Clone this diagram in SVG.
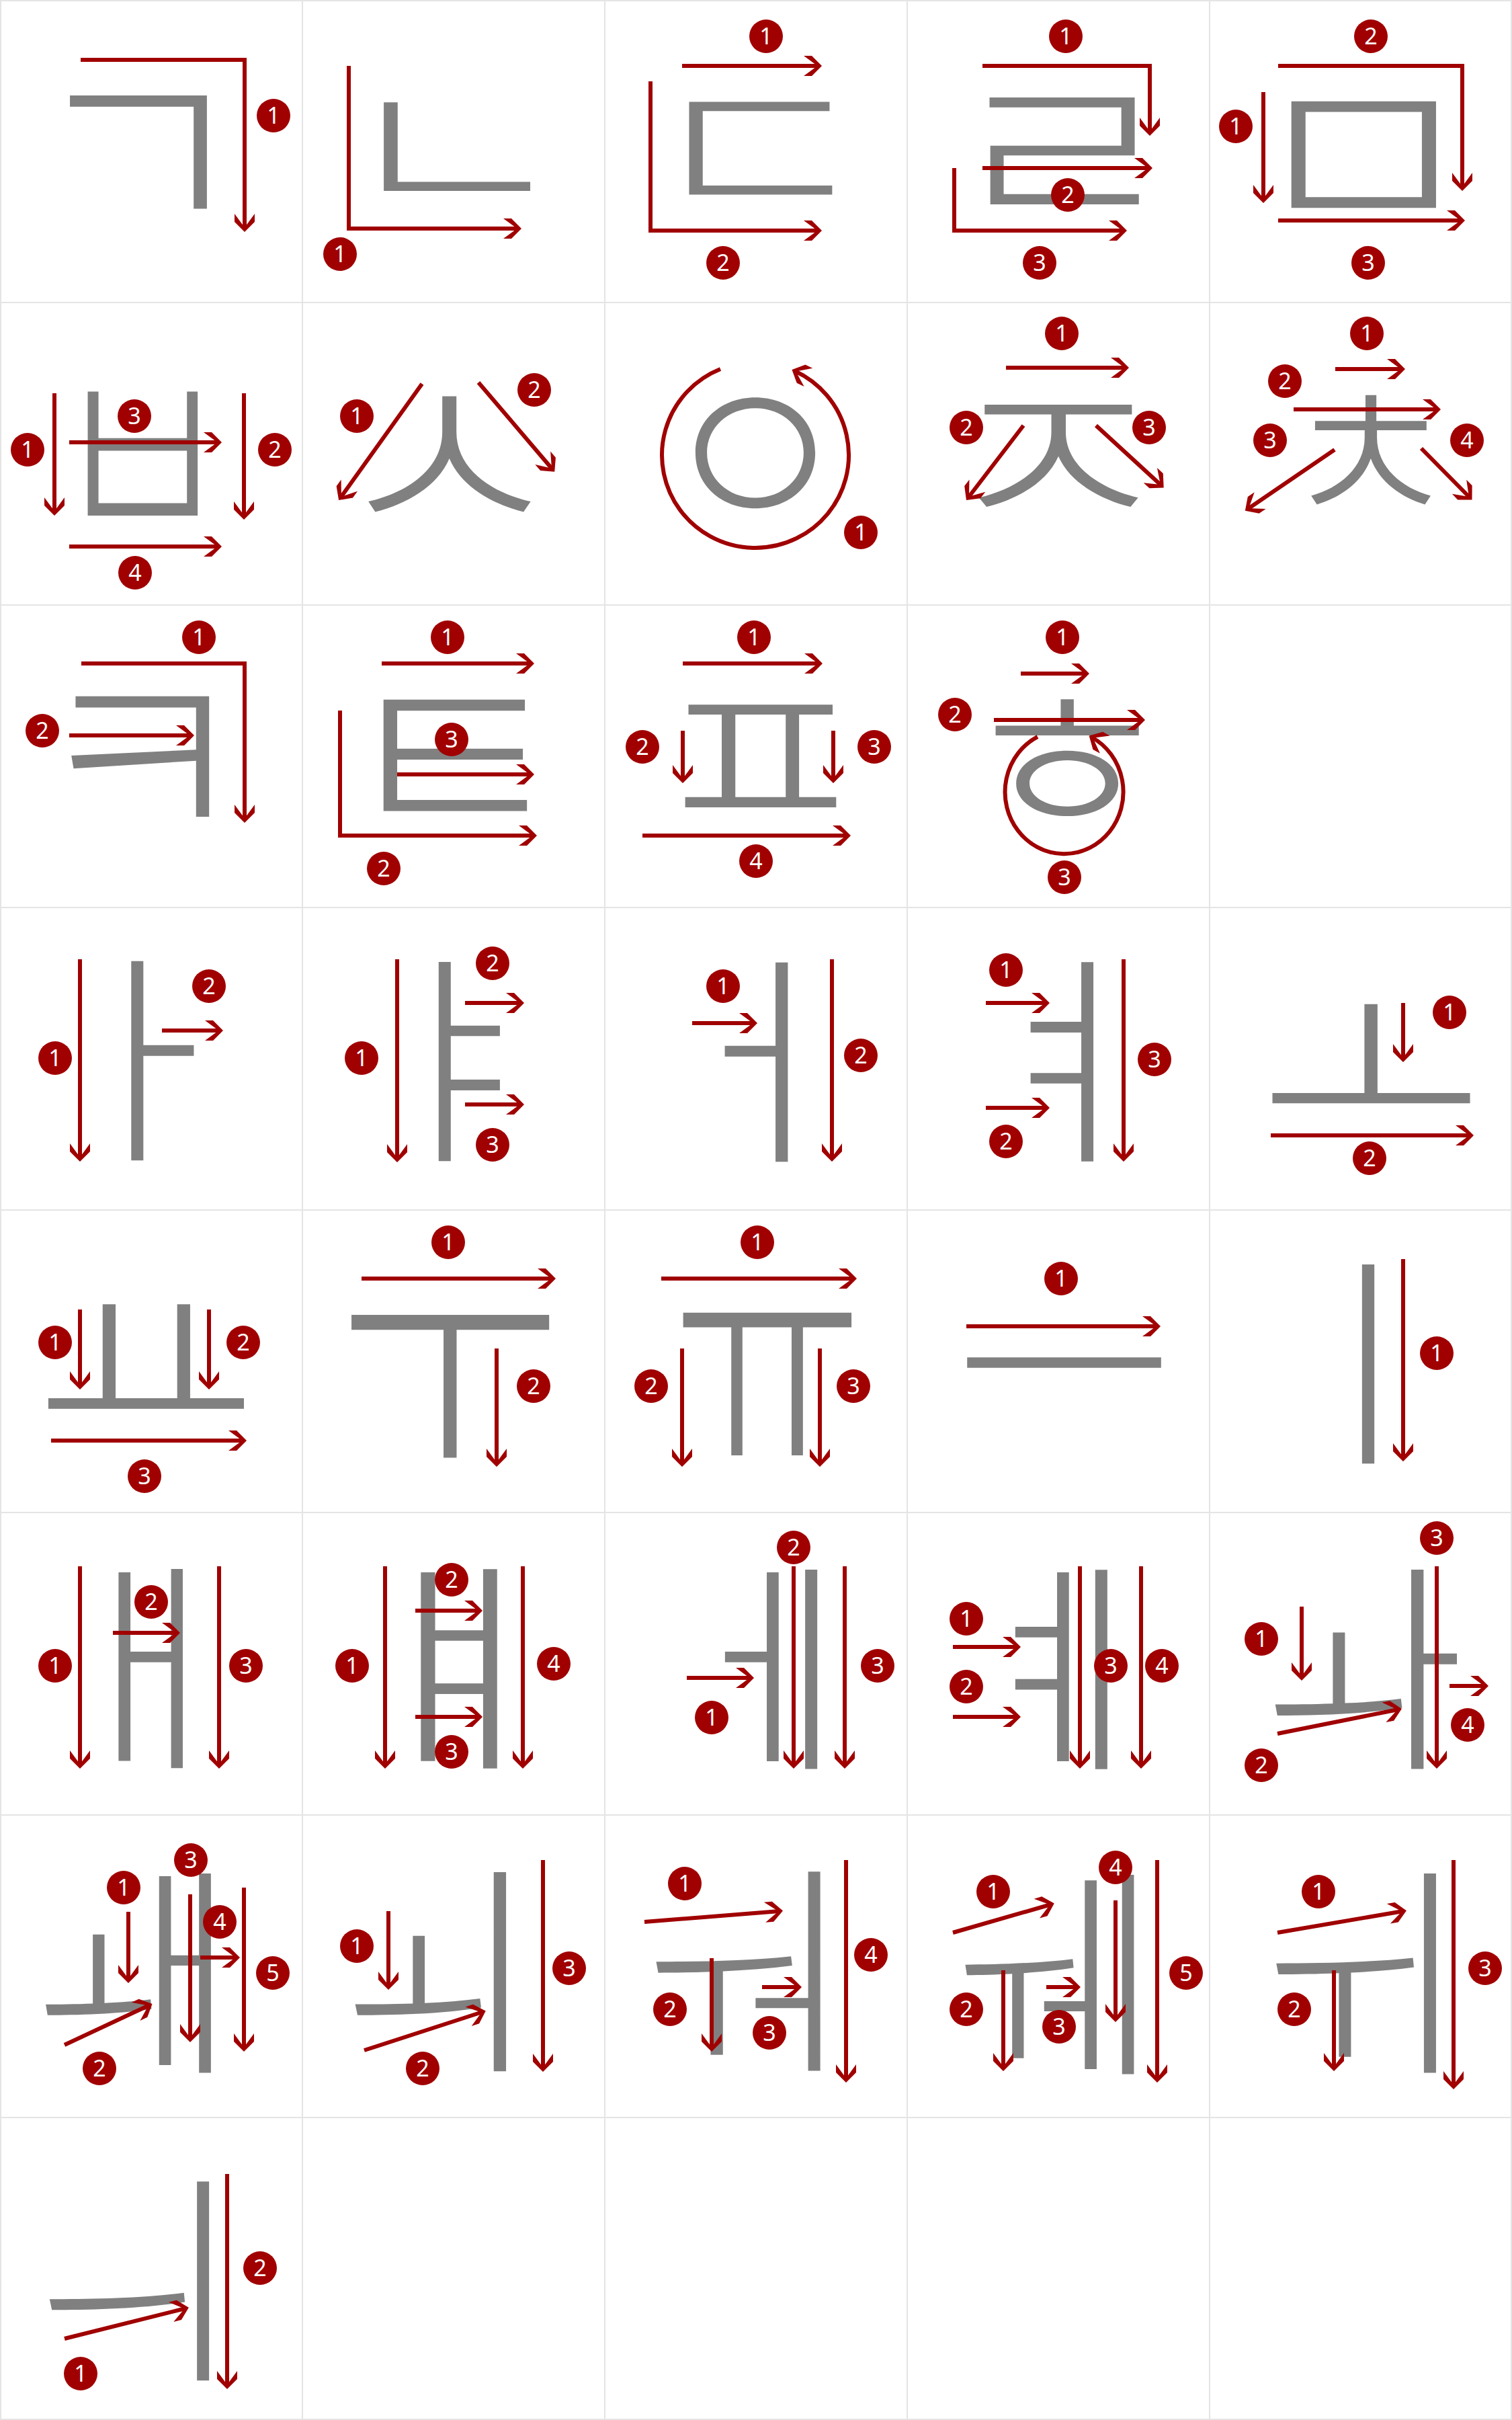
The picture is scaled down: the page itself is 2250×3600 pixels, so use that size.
<svg xmlns="http://www.w3.org/2000/svg" width="2250" height="3600" viewBox="0 0 2250 3600">
<defs>
<marker id="ah" markerUnits="userSpaceOnUse" viewBox="-32 -17 40 34" markerWidth="40" markerHeight="34" refX="-5" refY="0" orient="auto">
<path d="M0,0 L-15,-15 L-27,-15 L-10,-2.5 L-10,2.5 L-27,15 L-15,15 Z" fill="#a00000"/>
</marker>
<style>
.g{fill:#808080;font-family:"Noto Sans CJK KR","Noto Sans",sans-serif;font-weight:300;text-anchor:middle}
.c{font-size:300px}
.v{font-size:340px}
.a{fill:none;stroke:#a00000;stroke-width:6;marker-end:url(#ah);stroke-linejoin:miter}
.b circle{fill:#a00000}
.b text{fill:#fff;font-family:"Noto Sans",sans-serif;font-size:34px;text-anchor:middle}
.grid{stroke:#e4e4e4;stroke-width:2;fill:none}
</style>
</defs>
<rect width="2250" height="3600" fill="#fff"/>
<g id="grid" class="grid">
<rect x="1" y="1" width="2248" height="3598"/>
<path d="M450,0V3600M900,0V3600M1350,0V3600M1800,0V3600M0,450H2250M0,900H2250M0,1350H2250M0,1800H2250M0,2250H2250M0,2700H2250M0,3150H2250"/>
</g>
<g id="glyphs">
<g id="n-g"><text class="g c" x="0" y="113" transform="translate(206,223) scale(1.24,1.23)">ㄱ</text></g>
<g id="n-n"><text class="g c" x="-4" y="114" transform="translate(680,215) scale(1.3,0.97)">ㄴ</text></g>
<g id="n-d"><text class="g c" x="-2" y="112" transform="translate(1131,220) scale(1.3,1)">ㄷ</text></g>
<g id="n-r"><text class="g c" x="-3" y="113.5" transform="translate(1584,222) scale(1.3,1.1)">ㄹ</text></g>
<g id="n-m"><text class="g c" x="0" y="114" transform="translate(2027,227) scale(1.3,1.14)">ㅁ</text></g>
<g id="n-b"><text class="g c" x="0" y="117" transform="translate(211,669) scale(1,1.3)">ㅂ</text></g>
<g id="n-s"><text class="g c" x="0" y="117" transform="translate(666,671) scale(1.3,1.17)">ㅅ</text></g>
<g id="n-ng"><text class="g c" x="0" y="114" transform="translate(1124,672) scale(1.08,1.14)">ㅇ</text></g>
<g id="n-j"><text class="g c" x="-3" y="115" transform="translate(1575,675) scale(1.35,1.07)">ㅈ</text></g>
<g id="n-ch"><text class="g c" x="0" y="119" transform="translate(2039,665) scale(1.02,1)">ㅊ</text></g>
<g id="n-k"><text class="g c" x="-1" y="113" transform="translate(211,1124) scale(1.22,1.24)">ㅋ</text></g>
<g id="n-t"><text class="g c" x="-2" y="113" transform="translate(675,1122) scale(1.28,1.19)">ㅌ</text></g>
<g id="n-p"><text class="g c" x="2" y="112" transform="translate(1127,1123) scale(1.25,1.1)">ㅍ</text></g>
<g id="n-h"><text class="g c" x="0" y="116" transform="translate(1586,1124) scale(1.2,1.04)">ㅎ</text></g>
<g id="n-a"><text class="g v" x="213" y="1702">ㅏ</text></g>
<g id="n-ya"><text class="g v" x="681" y="1704">ㅑ</text></g>
<g id="n-eo"><text class="g v" x="1133" y="1704">ㅓ</text></g>
<g id="n-yeo"><text class="g v" x="1587" y="1704">ㅕ</text></g>
<g id="n-o"><text class="g v" x="1" y="141" transform="translate(2040,1570) scale(1.08,1)">ㅗ</text></g>
<g id="n-yo"><text class="g v" x="-1" y="136.5" transform="translate(216,2021) scale(1.07,1)">ㅛ</text></g>
<g id="n-u"><text class="g v" x="-3" y="100.5" transform="translate(671,2060) scale(1.08,1.42)">ㅜ</text></g>
<g id="n-yu"><text class="g v" x="21" y="98.5" transform="translate(1123,2060) scale(0.92,1.42)">ㅠ</text></g>
<g id="n-eu"><text class="g v" x="1" y="132.5" transform="translate(1583,2026) scale(1.06,1)">ㅡ</text></g>
<g id="n-i"><text class="g v" x="2034" y="2153">ㅣ</text></g>
<g id="n-ae"><text class="g v" x="222" y="2607">ㅐ</text></g>
<g id="n-yae"><text class="g v" x="-2" y="129" transform="translate(683,2478) scale(1.2,1)">ㅒ</text></g>
<g id="n-e"><text class="g v" x="1155" y="2607">ㅔ</text></g>
<g id="n-ye"><text class="g v" x="1587" y="2607">ㅖ</text></g>
<g id="n-wa"><text class="g v" x="2030" y="2607">ㅘ</text></g>
<g id="n-wae"><text class="g v" x="200" y="3059">ㅙ</text></g>
<g id="n-oe"><text class="g v" x="648" y="3057">ㅚ</text></g>
<g id="n-wo"><text class="g v" x="1103" y="3056">ㅝ</text></g>
<g id="n-we"><text class="g v" x="1565" y="3061">ㅞ</text></g>
<g id="n-wi"><text class="g v" x="2020" y="3059">ㅟ</text></g>
<g id="n-ui"><text class="g v" x="202" y="3512">ㅢ</text></g>
</g>
<g id="connectors">
<polyline class="a" points="120,89 364,89 364,340"/>
<polyline class="a" points="519,98 519,340 771,340"/>
<line class="a" x1="1015" y1="98" x2="1218" y2="98"/>
<polyline class="a" points="968,121 968,343 1218,343"/>
<polyline class="a" points="1462,98 1711,98 1711,197"/>
<line class="a" x1="1462" y1="250" x2="1710" y2="250"/>
<polyline class="a" points="1420,250 1420,343 1672,343"/>
<line class="a" x1="1880" y1="137" x2="1880" y2="297"/>
<polyline class="a" points="1902,98 2176,98 2176,279"/>
<line class="a" x1="1902" y1="328" x2="2175" y2="328"/>
<line class="a" x1="81" y1="585" x2="81" y2="762"/>
<line class="a" x1="363" y1="585" x2="363" y2="768"/>
<line class="a" x1="103" y1="658" x2="325" y2="658"/>
<line class="a" x1="103" y1="813" x2="325" y2="813"/>
<line class="a" x1="628" y1="571" x2="507" y2="740"/>
<line class="a" x1="712" y1="569" x2="822" y2="698"/>
<path class="a" d="M1072,549 A139,138 0 1 0 1183,552"/>
<line class="a" x1="1497" y1="547" x2="1675" y2="547"/>
<line class="a" x1="1523" y1="633" x2="1441" y2="740"/>
<line class="a" x1="1631" y1="633" x2="1728" y2="722"/>
<line class="a" x1="1987" y1="549" x2="2086" y2="549"/>
<line class="a" x1="1925" y1="609" x2="2139" y2="609"/>
<line class="a" x1="1986" y1="669" x2="1857" y2="757"/>
<line class="a" x1="2115" y1="667" x2="2187" y2="740"/>
<polyline class="a" points="121,987 364,987 364,1219"/>
<line class="a" x1="103" y1="1094" x2="284" y2="1094"/>
<line class="a" x1="568" y1="987" x2="790" y2="987"/>
<polyline class="a" points="506,1057 506,1243 794,1243"/>
<line class="a" x1="591" y1="1152" x2="790" y2="1152"/>
<line class="a" x1="1016" y1="987" x2="1219" y2="987"/>
<line class="a" x1="1016" y1="1087" x2="1016" y2="1160"/>
<line class="a" x1="1240" y1="1087" x2="1240" y2="1160"/>
<line class="a" x1="956" y1="1243" x2="1261" y2="1243"/>
<line class="a" x1="1519" y1="1002" x2="1616" y2="1002"/>
<line class="a" x1="1479" y1="1071" x2="1699" y2="1071"/>
<path class="a" d="M1544,1096 A88,92 0 1 0 1625,1097"/>
<line class="a" x1="119" y1="1427" x2="119" y2="1723"/>
<line class="a" x1="241" y1="1533" x2="327" y2="1533"/>
<line class="a" x1="591" y1="1427" x2="591" y2="1724"/>
<line class="a" x1="692" y1="1492" x2="775" y2="1492"/>
<line class="a" x1="692" y1="1643" x2="775" y2="1643"/>
<line class="a" x1="1030" y1="1522" x2="1122" y2="1522"/>
<line class="a" x1="1238" y1="1427" x2="1238" y2="1723"/>
<line class="a" x1="1467" y1="1492" x2="1557" y2="1492"/>
<line class="a" x1="1467" y1="1648" x2="1557" y2="1648"/>
<line class="a" x1="1672" y1="1427" x2="1672" y2="1723"/>
<line class="a" x1="2088" y1="1492" x2="2088" y2="1575"/>
<line class="a" x1="1891" y1="1689" x2="2188" y2="1689"/>
<line class="a" x1="119" y1="1948" x2="119" y2="2062"/>
<line class="a" x1="311" y1="1948" x2="311" y2="2062"/>
<line class="a" x1="76" y1="2143" x2="362" y2="2143"/>
<line class="a" x1="538" y1="1902" x2="822" y2="1902"/>
<line class="a" x1="739" y1="2006" x2="739" y2="2177"/>
<line class="a" x1="984" y1="1902" x2="1270" y2="1902"/>
<line class="a" x1="1015" y1="2006" x2="1015" y2="2177"/>
<line class="a" x1="1220" y1="2006" x2="1220" y2="2177"/>
<line class="a" x1="1438" y1="1973" x2="1722" y2="1973"/>
<line class="a" x1="2088" y1="1873" x2="2088" y2="2169"/>
<line class="a" x1="119" y1="2330" x2="119" y2="2626"/>
<line class="a" x1="168" y1="2429" x2="263" y2="2429"/>
<line class="a" x1="326" y1="2330" x2="326" y2="2626"/>
<line class="a" x1="573" y1="2330" x2="573" y2="2626"/>
<line class="a" x1="618" y1="2396" x2="713" y2="2396"/>
<line class="a" x1="618" y1="2554" x2="713" y2="2554"/>
<line class="a" x1="778" y1="2330" x2="778" y2="2626"/>
<line class="a" x1="1022" y1="2496" x2="1117" y2="2496"/>
<line class="a" x1="1181" y1="2330" x2="1181" y2="2626"/>
<line class="a" x1="1257" y1="2330" x2="1257" y2="2626"/>
<line class="a" x1="1418" y1="2450" x2="1514" y2="2450"/>
<line class="a" x1="1418" y1="2554" x2="1514" y2="2554"/>
<line class="a" x1="1607" y1="2330" x2="1607" y2="2626"/>
<line class="a" x1="1698" y1="2330" x2="1698" y2="2626"/>
<line class="a" x1="1937" y1="2390" x2="1937" y2="2495"/>
<line class="a" x1="1901" y1="2579" x2="2081" y2="2543"/>
<line class="a" x1="2138" y1="2330" x2="2138" y2="2626"/>
<line class="a" x1="2157" y1="2508" x2="2210" y2="2508"/>
<line class="a" x1="191" y1="2844" x2="191" y2="2945"/>
<line class="a" x1="96" y1="3042" x2="222" y2="2983"/>
<line class="a" x1="283" y1="2818" x2="283" y2="3033"/>
<line class="a" x1="298" y1="2912" x2="352" y2="2912"/>
<line class="a" x1="363" y1="2808" x2="363" y2="3047"/>
<line class="a" x1="578" y1="2843" x2="578" y2="2955"/>
<line class="a" x1="542" y1="3050" x2="718" y2="2993"/>
<line class="a" x1="808" y1="2767" x2="808" y2="3077"/>
<line class="a" x1="959" y1="2859" x2="1160" y2="2843"/>
<line class="a" x1="1059" y1="2913" x2="1059" y2="3047"/>
<line class="a" x1="1134" y1="2956" x2="1188" y2="2956"/>
<line class="a" x1="1259" y1="2767" x2="1259" y2="3093"/>
<line class="a" x1="1418" y1="2875" x2="1564" y2="2833"/>
<line class="a" x1="1493" y1="2931" x2="1493" y2="3076"/>
<line class="a" x1="1557" y1="2956" x2="1603" y2="2956"/>
<line class="a" x1="1660" y1="2827" x2="1660" y2="3003"/>
<line class="a" x1="1722" y1="2767" x2="1722" y2="3093"/>
<line class="a" x1="1901" y1="2875" x2="2088" y2="2843"/>
<line class="a" x1="1985" y1="2931" x2="1985" y2="3076"/>
<line class="a" x1="2163" y1="2767" x2="2163" y2="3103"/>
<line class="a" x1="96" y1="3479" x2="276" y2="3434"/>
<line class="a" x1="338" y1="3234" x2="338" y2="3549"/>
</g>
<g id="badges" class="b">
<circle cx="407" cy="172" r="25"/><text x="407" y="184">1</text>
<circle cx="506" cy="378" r="25"/><text x="506" y="390">1</text>
<circle cx="1140" cy="54" r="25"/><text x="1140" y="66">1</text>
<circle cx="1076" cy="391" r="25"/><text x="1076" y="403">2</text>
<circle cx="1586" cy="54" r="25"/><text x="1586" y="66">1</text>
<circle cx="1589" cy="290" r="25"/><text x="1589" y="302">2</text>
<circle cx="1547" cy="391" r="25"/><text x="1547" y="403">3</text>
<circle cx="1839" cy="188" r="25"/><text x="1839" y="200">1</text>
<circle cx="2040" cy="54" r="25"/><text x="2040" y="66">2</text>
<circle cx="2036" cy="391" r="25"/><text x="2036" y="403">3</text>
<circle cx="41" cy="669" r="25"/><text x="41" y="681">1</text>
<circle cx="409" cy="669" r="25"/><text x="409" y="681">2</text>
<circle cx="200" cy="619" r="25"/><text x="200" y="631">3</text>
<circle cx="201" cy="852" r="25"/><text x="201" y="864">4</text>
<circle cx="531" cy="619" r="25"/><text x="531" y="631">1</text>
<circle cx="795" cy="580" r="25"/><text x="795" y="592">2</text>
<circle cx="1281" cy="792" r="25"/><text x="1281" y="804">1</text>
<circle cx="1580" cy="496" r="25"/><text x="1580" y="508">1</text>
<circle cx="1438" cy="636" r="25"/><text x="1438" y="648">2</text>
<circle cx="1710" cy="636" r="25"/><text x="1710" y="648">3</text>
<circle cx="2034" cy="496" r="25"/><text x="2034" y="508">1</text>
<circle cx="1912" cy="567" r="25"/><text x="1912" y="579">2</text>
<circle cx="1890" cy="655" r="25"/><text x="1890" y="667">3</text>
<circle cx="2183" cy="655" r="25"/><text x="2183" y="667">4</text>
<circle cx="296" cy="948" r="25"/><text x="296" y="960">1</text>
<circle cx="63" cy="1087" r="25"/><text x="63" y="1099">2</text>
<circle cx="666" cy="948" r="25"/><text x="666" y="960">1</text>
<circle cx="571" cy="1292" r="25"/><text x="571" y="1304">2</text>
<circle cx="672" cy="1100" r="25"/><text x="672" y="1112">3</text>
<circle cx="1122" cy="948" r="25"/><text x="1122" y="960">1</text>
<circle cx="956" cy="1111" r="25"/><text x="956" y="1123">2</text>
<circle cx="1301" cy="1111" r="25"/><text x="1301" y="1123">3</text>
<circle cx="1125" cy="1281" r="25"/><text x="1125" y="1293">4</text>
<circle cx="1581" cy="948" r="25"/><text x="1581" y="960">1</text>
<circle cx="1421" cy="1063" r="25"/><text x="1421" y="1075">2</text>
<circle cx="1584" cy="1305" r="25"/><text x="1584" y="1317">3</text>
<circle cx="82" cy="1574" r="25"/><text x="82" y="1586">1</text>
<circle cx="311" cy="1467" r="25"/><text x="311" y="1479">2</text>
<circle cx="538" cy="1574" r="25"/><text x="538" y="1586">1</text>
<circle cx="733" cy="1433" r="25"/><text x="733" y="1445">2</text>
<circle cx="733" cy="1703" r="25"/><text x="733" y="1715">3</text>
<circle cx="1076" cy="1467" r="25"/><text x="1076" y="1479">1</text>
<circle cx="1281" cy="1570" r="25"/><text x="1281" y="1582">2</text>
<circle cx="1497" cy="1443" r="25"/><text x="1497" y="1455">1</text>
<circle cx="1497" cy="1698" r="25"/><text x="1497" y="1710">2</text>
<circle cx="1718" cy="1576" r="25"/><text x="1718" y="1588">3</text>
<circle cx="2157" cy="1506" r="25"/><text x="2157" y="1518">1</text>
<circle cx="2038" cy="1723" r="25"/><text x="2038" y="1735">2</text>
<circle cx="82" cy="1997" r="25"/><text x="82" y="2009">1</text>
<circle cx="362" cy="1997" r="25"/><text x="362" y="2009">2</text>
<circle cx="215" cy="2196" r="25"/><text x="215" y="2208">3</text>
<circle cx="667" cy="1848" r="25"/><text x="667" y="1860">1</text>
<circle cx="794" cy="2062" r="25"/><text x="794" y="2074">2</text>
<circle cx="1127" cy="1848" r="25"/><text x="1127" y="1860">1</text>
<circle cx="969" cy="2062" r="25"/><text x="969" y="2074">2</text>
<circle cx="1270" cy="2062" r="25"/><text x="1270" y="2074">3</text>
<circle cx="1579" cy="1902" r="25"/><text x="1579" y="1914">1</text>
<circle cx="2138" cy="2013" r="25"/><text x="2138" y="2025">1</text>
<circle cx="82" cy="2478" r="25"/><text x="82" y="2490">1</text>
<circle cx="225" cy="2383" r="25"/><text x="225" y="2395">2</text>
<circle cx="366" cy="2478" r="25"/><text x="366" y="2490">3</text>
<circle cx="524" cy="2478" r="25"/><text x="524" y="2490">1</text>
<circle cx="672" cy="2350" r="25"/><text x="672" y="2362">2</text>
<circle cx="672" cy="2606" r="25"/><text x="672" y="2618">3</text>
<circle cx="824" cy="2475" r="25"/><text x="824" y="2487">4</text>
<circle cx="1059" cy="2555" r="25"/><text x="1059" y="2567">1</text>
<circle cx="1181" cy="2302" r="25"/><text x="1181" y="2314">2</text>
<circle cx="1306" cy="2478" r="25"/><text x="1306" y="2490">3</text>
<circle cx="1438" cy="2408" r="25"/><text x="1438" y="2420">1</text>
<circle cx="1438" cy="2509" r="25"/><text x="1438" y="2521">2</text>
<circle cx="1653" cy="2478" r="25"/><text x="1653" y="2490">3</text>
<circle cx="1729" cy="2478" r="25"/><text x="1729" y="2490">4</text>
<circle cx="1877" cy="2438" r="25"/><text x="1877" y="2450">1</text>
<circle cx="1877" cy="2626" r="25"/><text x="1877" y="2638">2</text>
<circle cx="2138" cy="2288" r="25"/><text x="2138" y="2300">3</text>
<circle cx="2184" cy="2566" r="25"/><text x="2184" y="2578">4</text>
<circle cx="184" cy="2808" r="25"/><text x="184" y="2820">1</text>
<circle cx="148" cy="3077" r="25"/><text x="148" y="3089">2</text>
<circle cx="284" cy="2767" r="25"/><text x="284" y="2779">3</text>
<circle cx="327" cy="2859" r="25"/><text x="327" y="2871">4</text>
<circle cx="406" cy="2935" r="25"/><text x="406" y="2947">5</text>
<circle cx="531" cy="2895" r="25"/><text x="531" y="2907">1</text>
<circle cx="629" cy="3077" r="25"/><text x="629" y="3089">2</text>
<circle cx="847" cy="2928" r="25"/><text x="847" y="2940">3</text>
<circle cx="1019" cy="2802" r="25"/><text x="1019" y="2814">1</text>
<circle cx="997" cy="2989" r="25"/><text x="997" y="3001">2</text>
<circle cx="1145" cy="3024" r="25"/><text x="1145" y="3036">3</text>
<circle cx="1296" cy="2908" r="25"/><text x="1296" y="2920">4</text>
<circle cx="1478" cy="2814" r="25"/><text x="1478" y="2826">1</text>
<circle cx="1438" cy="2989" r="25"/><text x="1438" y="3001">2</text>
<circle cx="1576" cy="3015" r="25"/><text x="1576" y="3027">3</text>
<circle cx="1660" cy="2778" r="25"/><text x="1660" y="2790">4</text>
<circle cx="1765" cy="2935" r="25"/><text x="1765" y="2947">5</text>
<circle cx="1962" cy="2814" r="25"/><text x="1962" y="2826">1</text>
<circle cx="1926" cy="2989" r="25"/><text x="1926" y="3001">2</text>
<circle cx="2210" cy="2928" r="25"/><text x="2210" y="2940">3</text>
<circle cx="120" cy="3531" r="25"/><text x="120" y="3543">1</text>
<circle cx="387" cy="3374" r="25"/><text x="387" y="3386">2</text>
</g>
</svg>
